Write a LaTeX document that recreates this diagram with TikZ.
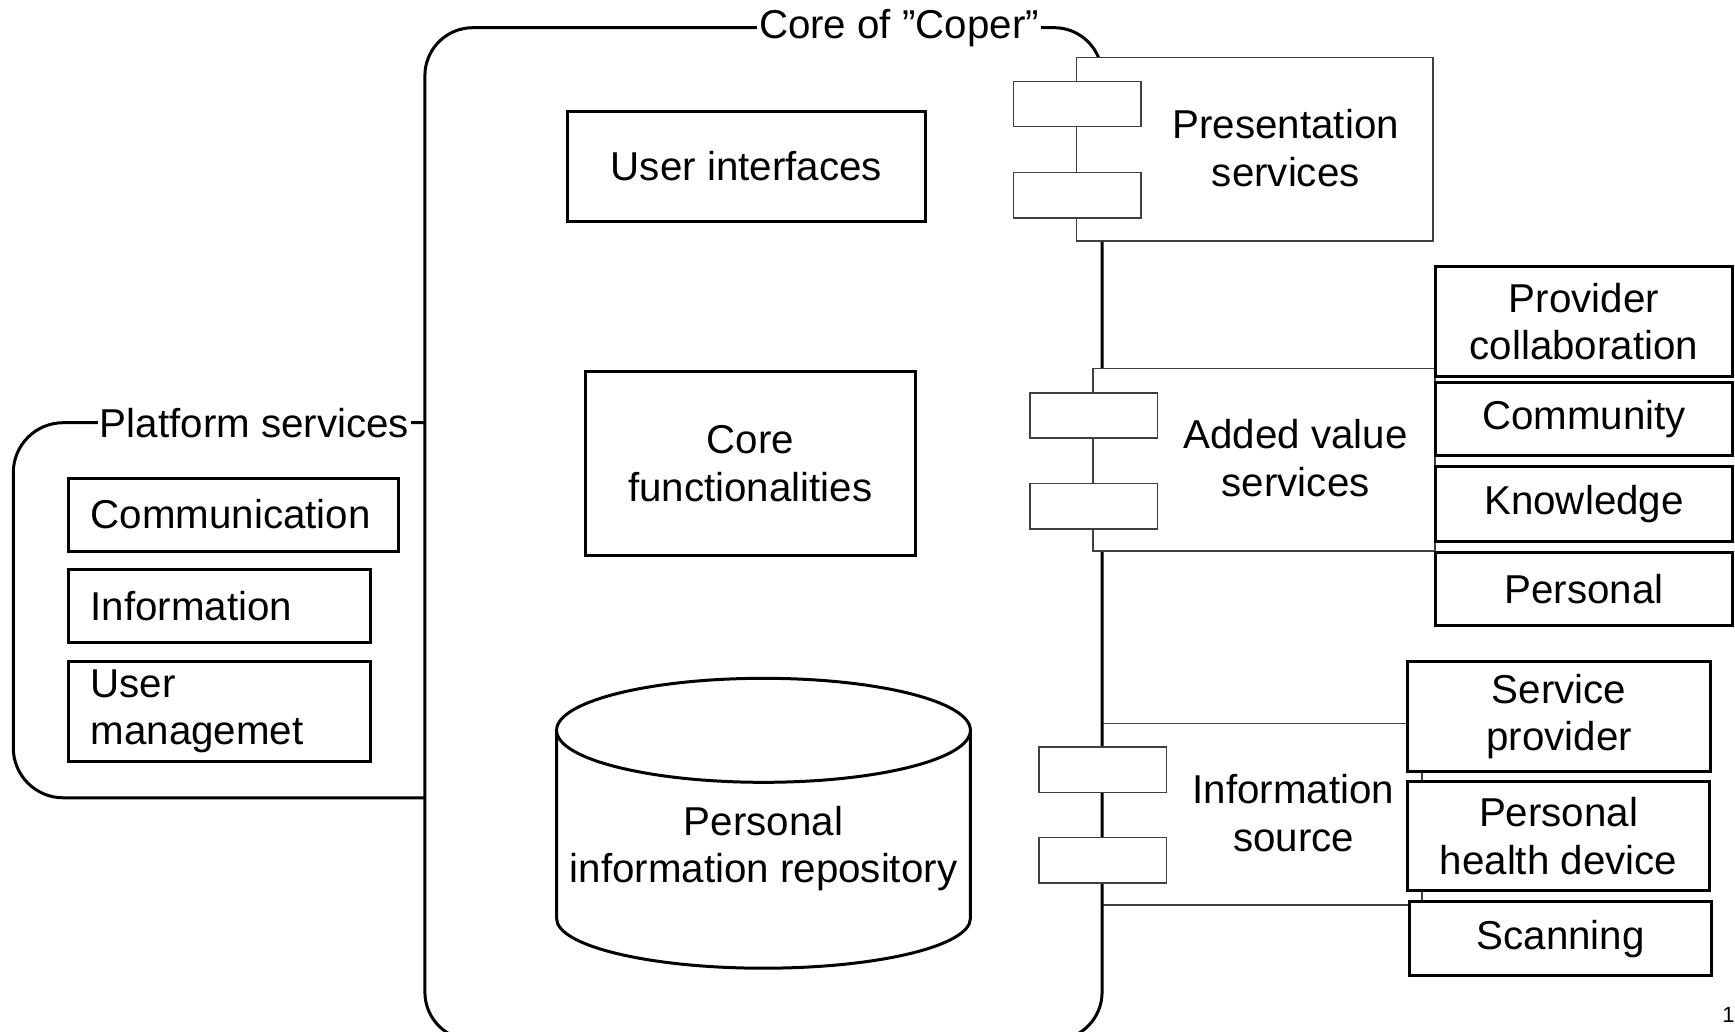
\documentclass[tikz,border=0pt]{standalone}
\usepackage{fontspec}
\setmainfont{Liberation Sans}
\def\pxu{0.55325pt}
\begin{document}
\begin{tikzpicture}[x=0.55325pt,y=-0.55325pt,
  font=\fontsize{20.15pt}{23.8pt}\selectfont,
  thickline/.style={line width=1.5pt},
  thinline/.style={line width=0.75pt, draw=black!75},
  sz/.style 2 args={minimum width=#1*\pxu, minimum height=#2*\pxu},
  box/.style={draw, thickline, fill=white, align=center, inner sep=0pt},
  leftbox/.style={draw, thickline, fill=white, align=left, inner ysep=0pt,
    inner xsep=20*\pxu, text width=#1*\pxu-40*\pxu, minimum height=66*\pxu},
  comp/.style={draw, thinline, fill=white, inner sep=0pt},
  port/.style={comp, sz={115}{41}},
  frame/.style={draw, thickline, rounded corners=24pt, inner sep=0pt},
  framelabel/.style={fill=white, inner xsep=1pt, inner ysep=0pt},
  txt/.style={align=center, inner sep=0pt}]
\useasboundingbox (0,0) rectangle (1568,932);

% platform services frame, closed on the right by the core frame
\coordinate (platTR) at (384,382);
\coordinate (platBR) at (384,721);
\draw[thickline, rounded corners=25pt] (platTR) -- (12,382) -- (12,721) -- (platBR);

% information source component (below the core frame line)
\node[comp, sz={289}{164}] (infocomp) at (1140.5,736) {};

% core frame
\node[frame, sz={612}{915}] (core) at (690,482.5) {};
\node[framelabel] (corelabel) at (812.5,25) {Core of ”Coper”};
\node[framelabel] (platformlabel) at (230,382) {Platform services};

% platform service boxes
\node[leftbox=298] (communication) at (211,465) {Communication};
\node[leftbox=273] (information) at (198.5,548) {Information};
\node[leftbox=273, minimum height=90*\pxu] (usermgmt) at (198.5,643) {User\\managemet};

% presentation services component
\node[comp, sz={322}{166}] (prescomp) at (1134,135) {};
\node[port] (presport1) at (973.5,94) {};
\node[port] (presport2) at (973.5,176.5) {};
\node[txt] (prestext) at (1162,134) {Presentation\\services};

% added value services component
\node[comp, sz={309}{165}] (addcomp) at (1142.5,415.5) {};
\node[port] (addport1) at (988.5,375.5) {};
\node[port] (addport2) at (988.5,457.5) {};
\node[txt] (addtext) at (1171,414) {Added value\\services};

% information source ports and text
\node[port] (infoport1) at (996.5,695.5) {};
\node[port] (infoport2) at (996.5,777.5) {};
\node[txt] (infotext) at (1169,735) {Information\\source};

% core components
\node[box, sz={323}{99}] (ui) at (674.5,150.5) {User interfaces};
\node[box, sz={298}{166}] (corefn) at (678,419) {Core\\functionalities};

% personal information repository (cylinder)
\draw[thickline, fill=white] (503,660) -- (503,830)
  arc[start angle=180, end angle=360, x radius=187*\pxu, y radius=45*\pxu]
  -- (877,660);
\draw[thickline, fill=white] (690,660) ellipse [x radius=187*\pxu, y radius=47*\pxu];
\node[txt] (repo) at (690,767) {Personal\\information repository};

% added value services
\node[box, sz={269}{99}] (provcollab) at (1431.5,290.5) {Provider\\collaboration};
\node[box, sz={269}{66}] (community) at (1431.5,379) {Community};
\node[box, sz={269}{67}] (knowledge) at (1431.5,455.5) {Knowledge};
\node[box, sz={269}{66}] (personal) at (1431.5,532) {Personal};

% information sources
\node[box, sz={274}{99}] (servprov) at (1409,647.5) {Service\\provider};
\node[box, sz={273}{99}] (healthdev) at (1408.5,755.5) {Personal\\health device};
\node[box, sz={273}{67}] (scanning) at (1410.5,848.5) {Scanning};

% page number
\node[inner sep=0pt, font=\fontsize{11pt}{12pt}\selectfont] (pagenum) at (1562,917) {1};
\end{tikzpicture}
\end{document}
